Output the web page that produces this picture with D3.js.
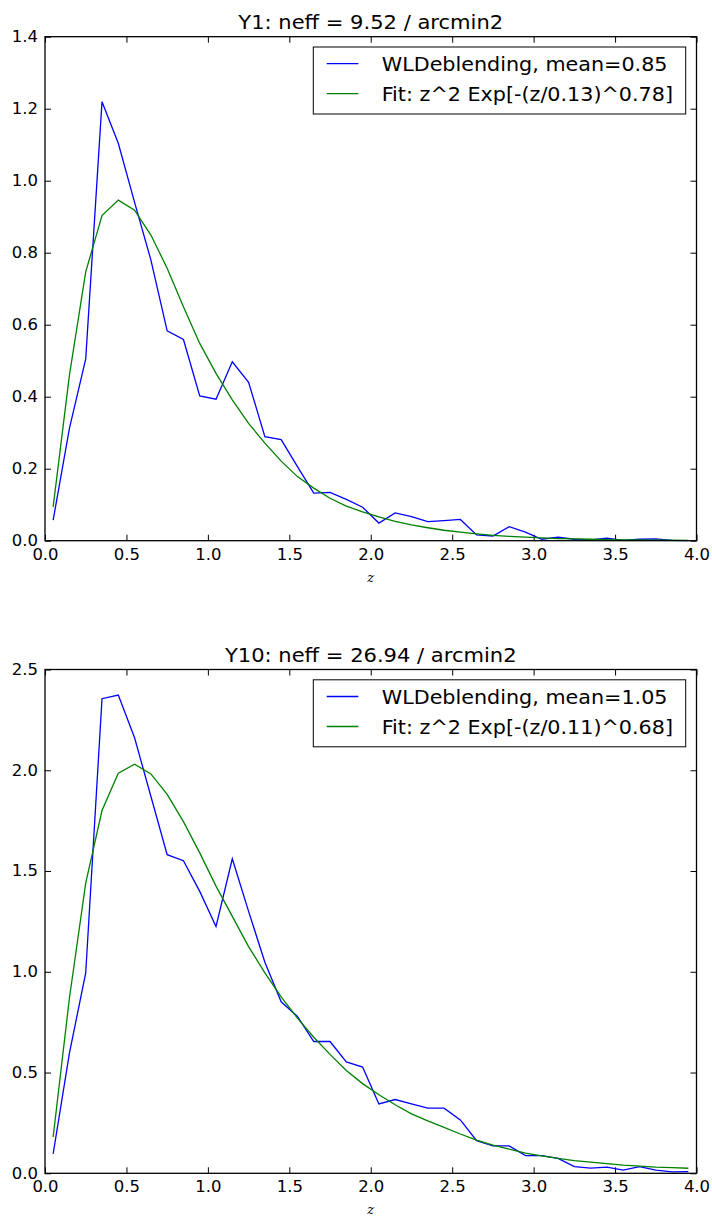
<!DOCTYPE html>
<html>
<head>
<meta charset="utf-8">
<script src="https://cdn.jsdelivr.net/npm/d3@7"></script>
<style>
  body { margin: 0; background: #fff; }
  svg { display: block; }
  text { font-family: "DejaVu Sans", sans-serif; fill: #000; }
</style>
</head>
<body>
<svg id="chart" width="712" height="1219"></svg>
<script>
// redshift bin centres
const zBins = [0.05, 0.15, 0.25, 0.35, 0.45, 0.55, 0.65, 0.75, 0.85, 0.95,
  1.05, 1.15, 1.25, 1.35, 1.45, 1.55, 1.65, 1.75, 1.85, 1.95,
  2.05, 2.15, 2.25, 2.35, 2.45, 2.55, 2.65, 2.75, 2.85, 2.95,
  3.05, 3.15, 3.25, 3.35, 3.45, 3.55, 3.65, 3.75, 3.85, 3.95];

// Y1 panel
const y1Counts = [0.057, 0.312, 0.505, 1.219, 1.104, 0.94, 0.78, 0.583, 0.559, 0.402,
  0.393, 0.497, 0.44, 0.289, 0.281, 0.206, 0.132, 0.134, 0.115, 0.093,
  0.049, 0.077, 0.067, 0.053, 0.056, 0.059, 0.016, 0.013, 0.039, 0.024,
  0.004, 0.010, 0.004, 0.002, 0.007, 0.001, 0.004, 0.005, 0.001, 0.0];
const y1Fit = [0.094, 0.46, 0.747, 0.903, 0.946, 0.918, 0.849, 0.757, 0.65, 0.548,
  0.465, 0.391, 0.326, 0.271, 0.221, 0.178, 0.146, 0.118, 0.096, 0.08,
  0.066, 0.054, 0.044, 0.036, 0.029, 0.024, 0.019, 0.015, 0.012, 0.01,
  0.008, 0.006, 0.005, 0.004, 0.003, 0.0025, 0.002, 0.0015, 0.0012, 0.001];

// Y10 panel
const y10Counts = [0.096, 0.596, 0.994, 2.355, 2.373, 2.161, 1.871, 1.581, 1.551, 1.399,
  1.225, 1.561, 1.30, 1.047, 0.851, 0.778, 0.654, 0.654, 0.553, 0.527,
  0.344, 0.366, 0.344, 0.323, 0.323, 0.265, 0.162, 0.136, 0.136, 0.088,
  0.088, 0.074, 0.033, 0.026, 0.031, 0.016, 0.033, 0.016, 0.007, 0.008];
const y10Fit = [0.18, 0.87, 1.44, 1.80, 1.985, 2.03, 1.982, 1.88, 1.745, 1.59,
  1.425, 1.275, 1.125, 0.995, 0.875, 0.77, 0.675, 0.59, 0.51, 0.445,
  0.39, 0.34, 0.295, 0.26, 0.228, 0.195, 0.165, 0.14, 0.12, 0.10,
  0.086, 0.074, 0.063, 0.055, 0.048, 0.041, 0.036, 0.031, 0.028, 0.025];

const xTicks = [0, 0.5, 1, 1.5, 2, 2.5, 3, 3.5, 4];
const y1Ticks = [0, 0.2, 0.4, 0.6, 0.8, 1.0, 1.2, 1.4];
const y10Ticks = [0, 0.5, 1.0, 1.5, 2.0, 2.5];

const titles = ["Y1: neff = 9.52 / arcmin2", "Y10: neff = 26.94 / arcmin2"];
const y1Labels = ["WLDeblending, mean=0.85", "Fit: z^2 Exp[-(z/0.13)^0.78]"];
const y10Labels = ["WLDeblending, mean=1.05", "Fit: z^2 Exp[-(z/0.11)^0.68]"];

const BLUE = "#0000ff", GREEN = "#008000";
const STRETCH = 1.1; // glyphs in the picture are a bit wider than tall

const svg = d3.select("#chart");
const x = d3.scaleLinear().domain([0, 4]).range([45, 696.5]);

function stretchText(sel, sx) {
  sel.each(function() {
    const t = d3.select(this);
    const ox = +t.attr("x") || 0;
    t.attr("x", ox / sx).attr("transform", `scale(${sx},1)`);
  });
}

function drawPanel(opts) {
  const { top, bottom, yMax, yTicks, counts, fit, title, labels } = opts;
  const y = d3.scaleLinear().domain([0, yMax]).range([bottom, top]);
  const g = svg.append("g");

  // inward ticks on all four sides
  const bx = g.append("g").attr("transform", `translate(0,${bottom})`)
    .call(d3.axisBottom(x).tickValues(xTicks).tickFormat(d3.format(".1f"))
      .tickSizeInner(-6).tickSizeOuter(0).tickPadding(8.5));
  const tx = g.append("g").attr("transform", `translate(0,${top})`)
    .call(d3.axisTop(x).tickValues(xTicks).tickFormat("").tickSizeInner(-6).tickSizeOuter(0));
  const ly = g.append("g").attr("transform", `translate(${x.range()[0]},0)`)
    .call(d3.axisLeft(y).tickValues(yTicks).tickFormat(d3.format(".1f"))
      .tickSizeInner(-6).tickSizeOuter(0).tickPadding(7));
  const ry = g.append("g").attr("transform", `translate(${x.range()[1]},0)`)
    .call(d3.axisRight(y).tickValues(yTicks).tickFormat("").tickSizeInner(-6).tickSizeOuter(0));

  [bx, tx, ly, ry].forEach(a => {
    a.select(".domain").remove();
    a.selectAll(".tick line").attr("stroke", "#000").attr("stroke-width", 1);
  });
  [bx, ly].forEach(a => {
    a.selectAll(".tick text").attr("font-size", 15).attr("fill", "#000")
      .style("font-family", "DejaVu Sans");
    stretchText(a.selectAll(".tick text"), STRETCH);
  });

  // data lines
  const line = d3.line().x((d, i) => x(zBins[i])).y(d => y(d));
  g.append("path").datum(counts).attr("d", line)
    .attr("fill", "none").attr("stroke", BLUE).attr("stroke-width", 1.3);
  g.append("path").datum(fit).attr("d", line)
    .attr("fill", "none").attr("stroke", GREEN).attr("stroke-width", 1.3);

  // frame
  g.append("rect")
    .attr("x", x.range()[0]).attr("y", top)
    .attr("width", x.range()[1] - x.range()[0]).attr("height", bottom - top)
    .attr("fill", "none").attr("stroke", "#000").attr("stroke-width", 1.3);

  // title
  const cx = (x.range()[0] + x.range()[1]) / 2;
  g.append("text")
    .attr("transform", `translate(${cx},${top - 7.5}) scale(1.08,1)`)
    .attr("text-anchor", "middle").attr("font-size", 19.5)
    .text(title);

  // x label
  g.append("text")
    .attr("x", cx).attr("y", bottom + 41)
    .attr("text-anchor", "middle").attr("font-size", 13)
    .style("font-family", "DejaVu Serif").style("font-style", "italic")
    .text("z");

  // legend
  const lx = 313.3, lw = 372.4, lyTop = top + 10.3, lh = 67;
  const leg = g.append("g");
  leg.append("rect").attr("x", lx).attr("y", lyTop).attr("width", lw).attr("height", lh)
    .attr("fill", "#fff").attr("stroke", "#000").attr("stroke-width", 1);
  [BLUE, GREEN].forEach((c, i) => {
    const ry0 = lyTop + 16.7 + i * 30;
    leg.append("line").attr("x1", lx + 13.4).attr("x2", lx + 45)
      .attr("y1", ry0).attr("y2", ry0).attr("stroke", c).attr("stroke-width", 1.3);
    leg.append("text")
      .attr("transform", `translate(${lx + 68.4},${ry0 + 7}) scale(1.09,1)`)
      .attr("font-size", 19)
      .text(labels[i]);
  });
}

drawPanel({ top: 36.7, bottom: 540.7, yMax: 1.4, yTicks: y1Ticks,
  counts: y1Counts, fit: y1Fit, title: titles[0], labels: y1Labels });
drawPanel({ top: 669.5, bottom: 1173.3, yMax: 2.5, yTicks: y10Ticks,
  counts: y10Counts, fit: y10Fit, title: titles[1], labels: y10Labels });
</script>
</body>
</html>
